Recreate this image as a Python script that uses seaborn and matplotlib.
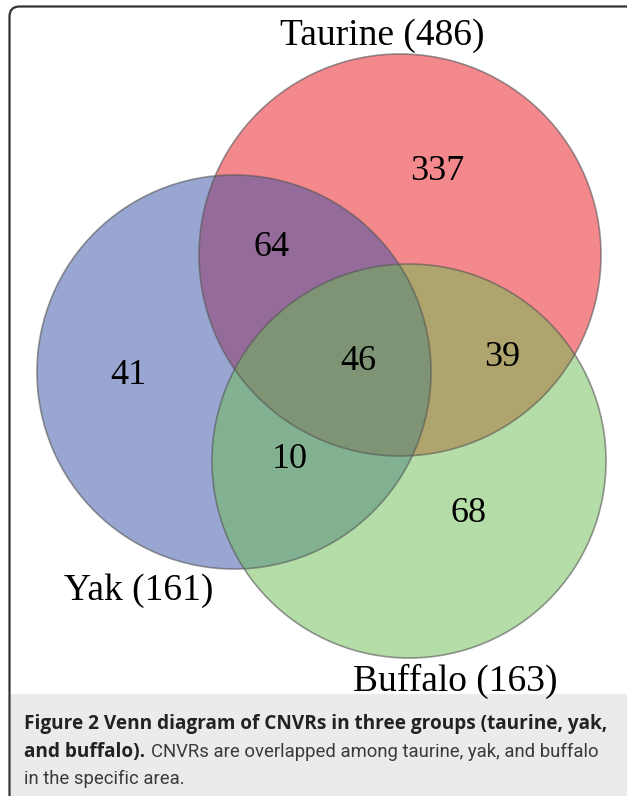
import matplotlib
matplotlib.use("Agg")
import matplotlib.pyplot as plt
from matplotlib.patches import Circle, FancyBboxPatch, Rectangle
import seaborn as sns

# Venn data
set_names = ["Taurine", "Yak", "Buffalo"]
set_sizes = [486, 161, 163]
region_names = ["Taurine only", "Yak only", "Buffalo only",
                "Taurine & Yak", "Taurine & Buffalo", "Yak & Buffalo", "All"]
region_counts = [337, 41, 68, 64, 39, 10, 46]

sns.set_theme(style="white")
plt.rcParams['font.family'] = ['Liberation Serif', 'DejaVu Serif']

# base colours, drawn with alpha over white
set_colors = ["#eb141c", "#354fa5", "#6bbd51"]

fig = plt.figure(figsize=(6.27, 7.96), dpi=100)
ax = fig.add_axes([0, 0, 1, 1])
ax.set_xlim(0, 627)
ax.set_ylim(796, 0)
ax.set_aspect('equal')
ax.axis('off')

# layout (pixel space)
centers = [(400, 255), (234, 372), (409, 461)]
radius = [201, 197, 197]
label_pos = [(382, 36), (139, 591), (455, 681)]
count_pos = [(437, 172), (128, 375), (469, 514),
             (272, 247), (502, 358), (290, 460), (358, 362)]

# frame + caption box
ax.add_patch(FancyBboxPatch((9.5, 6.5), 700, 900, boxstyle="round,pad=0,rounding_size=10",
                            facecolor="white", edgecolor="#333333", lw=1.6, zorder=0))
ax.add_patch(Rectangle((10.5, 694), 640, 120, facecolor="#ebebeb", edgecolor="none", zorder=1))

for c, r, col in zip(centers, radius, set_colors):
    ax.add_patch(Circle(c, r, facecolor=col, alpha=0.5, edgecolor="none", zorder=2))
    ax.add_patch(Circle(c, r, facecolor="none", edgecolor="#555555", alpha=0.6, lw=1.2, zorder=3))

for name, size, (x, y) in zip(set_names, set_sizes, label_pos):
    ax.text(x, y, f"{name} ({size})", fontsize=27, ha="center", va="center", color="black", zorder=4)

for n, (x, y) in zip(region_counts, count_pos):
    ax.text(x, y, str(n), fontsize=26, ha="center", va="center", color="black", zorder=4)

bold_font = ['Open Sans', 'DejaVu Sans']
reg_font = ['Roboto', 'DejaVu Sans']
ax.text(24, 724, "Figure 2 Venn diagram of CNVRs in three groups (taurine, yak,",
        fontsize=13.7, fontweight="bold", family=bold_font, color="#222222", va="center", zorder=4)
b2 = ax.text(24, 752, "and buffalo).", fontsize=13.7, fontweight="bold", family=bold_font,
             color="#222222", va="center", zorder=4)
ax.annotate("CNVRs are overlapped among taurine, yak, and buffalo", xy=(1, 0.5),
            xycoords=b2, xytext=(4, 0), textcoords="offset points",
            fontsize=13.3, family=reg_font, color="#3a3a3a",
            va="center", zorder=4)
ax.text(24, 779, "in the specific area.", fontsize=13.3, family=reg_font,
        color="#3a3a3a", va="center", zorder=4)

fig.savefig("out.png", dpi=100)
